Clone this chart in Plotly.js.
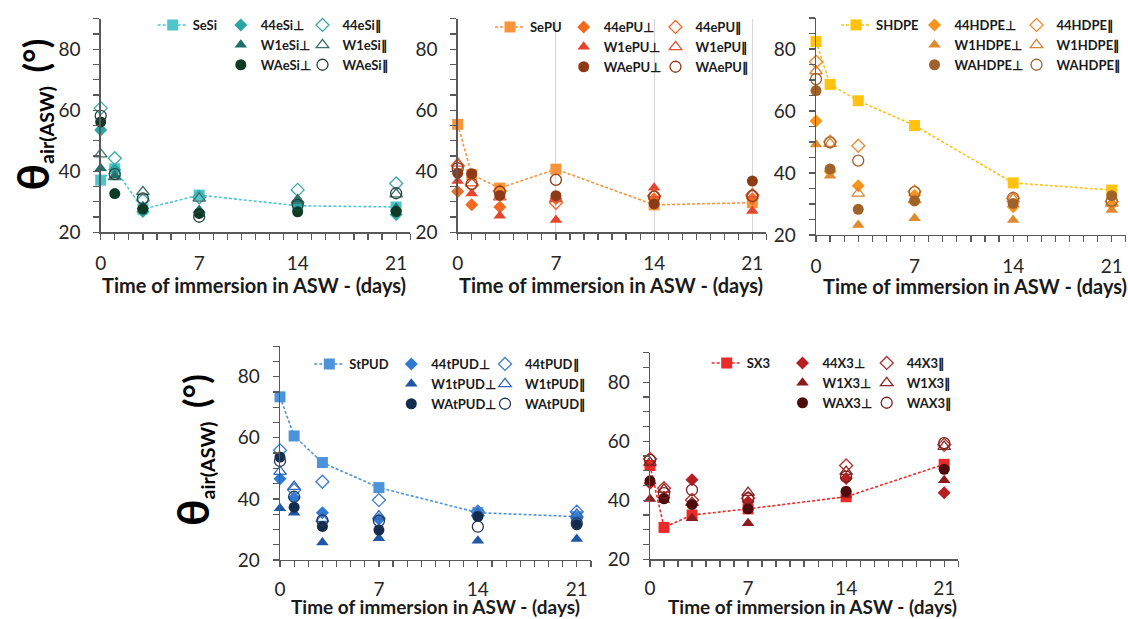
<!DOCTYPE html>
<html>
<head>
<meta charset="utf-8">
<script src="https://cdn.plot.ly/plotly-3.0.1.min.js"></script>
<style>html,body{margin:0;padding:0;background:#fff;}#chart{width:1128px;height:619px;}</style>
</head>
<body>
<div id="chart"></div>
<script>
// ---------- data ----------
const days = [0, 1, 3, 7, 14, 21];
const yTickVals = [20, 40, 60, 80];
const xTitle = 'Time of immersion in ASW - (days)';

// Panel 1 : eSi
const sesiNames = ['SeSi', '44eSi⊥', '44eSi∥', 'W1eSi⊥', 'W1eSi∥', 'WAeSi⊥', 'WAeSi∥'];
const sesi_S      = [37.1, 40.8, 27.6, 32.2, 28.7, 28.3];
const sesi_44perp = [53.5, 40.5, 26.8, 26.5, 29.2, 25.8];
const sesi_44par  = [60.7, 44.3, 30.5, 31.5, 33.9, 36.0];
const sesi_W1perp = [41.0, 38.5, 28.5, 27.3, 30.8, 28.0];
const sesi_W1par  = [45.6, 38.2, 33.3, 31.1, 30.5, 32.5];
const sesi_WAperp = [56.2, 32.7, 27.6, 26.2, 26.7, 26.8];
const sesi_WApar  = [58.2, 39.1, 31.1, 25.1, 29.0, 32.8];

// Panel 2 : ePU
const epuNames = ['SePU', '44ePU⊥', '44ePU∥', 'W1ePU⊥', 'W1ePU∥', 'WAePU⊥', 'WAePU∥'];
const epu_S      = [55.4, 38.9, 34.5, 40.7, 29.0, 29.7];
const epu_44perp = [33.4, 29.0, 28.3, 31.0, 31.0, 31.0];
const epu_44par  = [41.8, 35.5, 33.5, 29.7, 32.0, 32.2];
const epu_W1perp = [36.8, 32.7, 25.4, 24.0, 34.6, 27.0];
const epu_W1par  = [42.6, 36.1, 31.5, 31.0, 32.5, 32.5];
const epu_WAperp = [39.4, 39.2, 32.1, 32.0, 29.3, 36.8];
const epu_WApar  = [41.0, 35.9, 33.3, 37.2, 31.7, 31.9];

// Panel 3 : HDPE
const hdpeNames = ['SHDPE', '44HDPE⊥', '44HDPE∥', 'W1HDPE⊥', 'W1HDPE∥', 'WAHDPE⊥', 'WAHDPE∥'];
const hdpe_S      = [82.4, 68.6, 63.3, 55.3, 36.8, 34.5];
const hdpe_44perp = [56.8, 40.5, 35.9, 32.8, 29.1, 29.8];
const hdpe_44par  = [75.9, 50.1, 48.8, 34.0, 31.8, 30.8];
const hdpe_W1perp = [49.2, 39.1, 23.2, 25.4, 24.8, 28.1];
const hdpe_W1par  = [72.9, 49.5, 33.4, 31.3, 31.6, 30.2];
const hdpe_WAperp = [66.6, 41.3, 28.3, 31.0, 30.2, 32.7];
const hdpe_WApar  = [70.3, 49.9, 44.0, 33.8, 32.0, 31.0];

// Panel 4 : tPUD
const tpudNames = ['StPUD', '44tPUD⊥', '44tPUD∥', 'W1tPUD⊥', 'W1tPUD∥', 'WAtPUD⊥', 'WAtPUD∥'];
const tpud_S      = [73.4, 60.6, 51.9, 43.7, 35.5, 34.2];
const tpud_44perp = [46.6, 40.4, 35.5, 33.3, 34.7, 33.6];
const tpud_44par  = [55.9, 42.9, 45.6, 39.6, 35.8, 35.8];
const tpud_W1perp = [36.9, 35.5, 25.7, 27.1, 26.3, 26.9];
const tpud_W1par  = [48.9, 44.0, 33.5, 34.4, 35.3, 34.9];
const tpud_WAperp = [53.7, 37.3, 31.0, 29.8, 34.2, 31.5];
const tpud_WApar  = [52.4, 40.7, 33.0, 32.8, 30.9, 32.0];

// Panel 5 : X3
const x3Names = ['SX3', '44X3⊥', '44X3∥', 'W1X3⊥', 'W1X3∥', 'WAX3⊥', 'WAX3∥'];
const x3_S      = [51.8, 30.8, 35.0, 37.1, 41.2, 52.2];
const x3_44perp = [45.8, 41.0, 47.0, 39.5, 47.4, 42.6];
const x3_44par  = [54.0, 44.1, 40.1, 40.7, 51.8, 58.8];
const x3_W1perp = [40.4, 40.1, 33.9, 32.2, 41.8, 46.8];
const x3_W1par  = [52.8, 43.7, 39.2, 42.6, 49.7, 58.2];
const x3_WAperp = [46.6, 40.5, 38.6, 37.1, 43.1, 50.5];
const x3_WApar  = [53.7, 42.4, 43.5, 40.7, 48.0, 59.4];

// ---------- styling ----------
const W = 1128, H = 619;
const px = p => p / W;
const py = p => 1 - p / H;
const FONT = 'Lato, "Open Sans", sans-serif';
const AX = '#595959';

const symbols = ['square', 'diamond', 'diamond-open', 'triangle-up', 'triangle-up-open', 'circle', 'circle-open'];
const sizes   = [11, 10, 10, 11, 11, 11, 11];

const panels = [
  { names: sesiNames, series: [sesi_S, sesi_44perp, sesi_44par, sesi_W1perp, sesi_W1par, sesi_WAperp, sesi_WApar],
    colors: ['#4FC6CB', '#2AA6A4', '#37A9AA', '#1D6F6B', '#3F6F6D', '#0D3B26', '#27413A'],
    xd: [100.7, 410.2], yd: [232.3, 18.8], legX: [152.7, 220.8, 302.5], legY: 10, grid: false,
    xt: [254, 285], xs: 20, xso: 8, yt: [31.5, 115] },
  { names: epuNames, series: [epu_S, epu_44perp, epu_44par, epu_W1perp, epu_W1par, epu_WAperp, epu_WApar],
    colors: ['#F8943B', '#F26A21', '#EE6A2B', '#E5452B', '#E0553A', '#8E3A17', '#8E3A17'],
    xd: [457.7, 766.4], yd: [232.3, 18.8], legX: [490, 563.7, 655.5], legY: 12, grid: true,
    xt: [611, 285], xs: 20, xso: 8, yt: null },
  { names: hdpeNames, series: [hdpe_S, hdpe_44perp, hdpe_44par, hdpe_W1perp, hdpe_W1par, hdpe_WAperp, hdpe_WApar],
    colors: ['#FFC20E', '#F7941D', '#F08A30', '#E08A30', '#D8843A', '#A0622B', '#A0622B'],
    xd: [816, 1125.8], yd: [235, 18], legX: [836, 914.5, 1016.5], legY: 10, grid: false,
    xt: [975, 286], xs: 20, xso: 8, yt: null },
  { names: tpudNames, series: [tpud_S, tpud_44perp, tpud_44par, tpud_W1perp, tpud_W1par, tpud_WAperp, tpud_WApar],
    colors: ['#4D93D9', '#2F7BD3', '#3C7CD0', '#1E57A3', '#3367B0', '#132B4D', '#23375A'],
    xd: [280, 590.9], yd: [560, 346.15], legX: [309.3, 391.3, 485], legY: 349, grid: false,
    xt: [435, 606.5], xs: 19, xso: 6, yt: [192, 450] },
  { names: x3Names, series: [x3_S, x3_44perp, x3_44par, x3_W1perp, x3_W1par, x3_WAperp, x3_WApar],
    colors: ['#EC2A2A', '#B51F23', '#B5302F', '#8C1B1B', '#8C2525', '#4E0C0C', '#7A2020'],
    xd: [650, 958.2], yd: [559.3, 352.8], legX: [706.7, 782.5, 866.7], legY: 348, grid: false,
    xt: [812, 606.5], xs: 19, xso: 6, yt: null }
];

const traces = [];
const layout = {
  width: W, height: H,
  margin: { l: 0, r: 0, t: 0, b: 0 },
  paper_bgcolor: '#ffffff', plot_bgcolor: 'rgba(0,0,0,0)',
  showlegend: true,
  font: { family: FONT, color: '#262626' },
  annotations: []
};

const yTitleText = '<b><span style="font-size:44px">θ</span><sub>air(ASW)</sub>  <span style="font-size:35px">(°)</span></b>';

panels.forEach((p, i) => {
  const n = i + 1;
  const xa = n === 1 ? 'x' : 'x' + n;
  const ya = n === 1 ? 'y' : 'y' + n;
  const legIds = [0, 1, 2].map(k => {
    const idx = i * 3 + k + 1;
    return idx === 1 ? 'legend' : 'legend' + idx;
  });

  p.series.forEach((vals, s) => {
    const isLine = s === 0;
    const open = symbols[s].indexOf('open') >= 0;
    const legendIdx = s === 0 ? 0 : (s % 2 === 1 ? 1 : 2);
    traces.push({
      type: 'scatter',
      x: days, y: vals,
      xaxis: xa, yaxis: ya,
      name: p.names[s],
      legend: legIds[legendIdx],
      mode: isLine ? 'lines+markers' : 'markers',
      line: isLine ? { color: p.colors[s], width: 1.6, dash: '3px,2px' } : undefined,
      marker: {
        symbol: symbols[s], size: sizes[s], color: p.colors[s],
        line: open ? { color: p.colors[s], width: 1.3 } : { width: 0 }
      },
      cliponaxis: false,
      hoverinfo: 'x+y+name'
    });
  });

  layout['xaxis' + (n === 1 ? '' : n)] = {
    domain: [px(p.xd[0]), px(p.xd[1])],
    anchor: ya, range: [0, 22],
    tickmode: 'linear', tick0: 0, dtick: 7,
    showline: true, linecolor: AX, linewidth: 1.3,
    ticks: 'outside', ticklen: 6, tickwidth: 1.2, tickcolor: AX,
    minor: { tickmode: 'linear', tick0: 0, dtick: 1, ticks: 'outside', ticklen: 6, tickwidth: 1.2, tickcolor: AX },
    showgrid: p.grid, gridcolor: '#d6d6d6', gridwidth: 1,
    zeroline: false,
    tickfont: { family: FONT, size: 19, color: '#262626' },
    ticklabelstandoff: p.xso,
    fixedrange: true
  };
  layout['yaxis' + (n === 1 ? '' : n)] = {
    domain: [py(p.yd[0]), py(p.yd[1])],
    anchor: xa, range: [20, 90],
    tickmode: 'array', tickvals: yTickVals,
    showline: true, linecolor: AX, linewidth: 1.3,
    ticks: 'outside', ticklen: 6, tickwidth: 1.2, tickcolor: AX,
    minor: { tickmode: 'linear', tick0: 20, dtick: 5, ticks: 'outside', ticklen: 6, tickwidth: 1.2, tickcolor: AX },
    showgrid: false, zeroline: false,
    tickfont: { family: FONT, size: 19, color: '#262626' },
    ticklabelstandoff: 9,
    fixedrange: true
  };

  legIds.forEach((id, k) => {
    layout[id] = {
      x: px(p.legX[k]), xanchor: 'left',
      y: py(p.legY), yanchor: 'top',
      orientation: 'v',
      bgcolor: 'rgba(0,0,0,0)', borderwidth: 0,
      font: { family: FONT, size: 13, color: '#1a1a1a', weight: 'bold' },
      itemwidth: 30, tracegroupgap: 0
    };
  });

  layout.annotations.push({
    xref: 'paper', yref: 'paper',
    x: px(p.xt[0]), y: py(p.xt[1]),
    xanchor: 'center', yanchor: 'middle',
    text: '<b>' + xTitle + '</b>', showarrow: false,
    font: { family: FONT, size: p.xs, color: '#1a1a1a' }
  });
  if (p.yt) {
    layout.annotations.push({
      xref: 'paper', yref: 'paper',
      x: px(p.yt[0]), y: py(p.yt[1]),
      xanchor: 'center', yanchor: 'middle',
      textangle: -90,
      text: yTitleText, showarrow: false,
      font: { family: FONT, size: 28, color: '#000000' }
    });
  }
});

Plotly.newPlot('chart', traces, layout, { displayModeBar: false, staticPlot: true });
</script>
</body>
</html>
